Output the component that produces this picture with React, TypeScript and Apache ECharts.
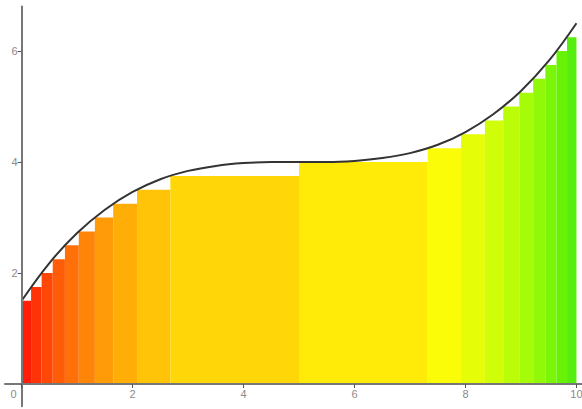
import React, { useEffect, useRef } from "react";
import * as echarts from "echarts";

// Step bars (equal height steps of the curve)
const barStarts = [0, 0.17, 0.36, 0.56, 0.78, 1.03, 1.32, 1.65, 2.08, 2.68, 5.0, 7.32, 7.92, 8.35, 8.68, 8.97, 9.22, 9.44, 9.64, 9.83];
const barEnds = [0.17, 0.36, 0.56, 0.78, 1.03, 1.32, 1.65, 2.08, 2.68, 5.0, 7.32, 7.92, 8.35, 8.68, 8.97, 9.22, 9.44, 9.64, 9.83, 10];
const barHeights = [1.5, 1.75, 2.0, 2.25, 2.5, 2.75, 3.0, 3.25, 3.5, 3.75, 4.0, 4.25, 4.5, 4.75, 5.0, 5.25, 5.5, 5.75, 6.0, 6.25];
const barColors = [
  "#ff1e08", "#ff3308", "#ff4808", "#ff5c08", "#ff7008", "#ff8508", "#ff9a08", "#ffae08", "#ffc308", "#ffd708",
  "#ffea08", "#fbfd08", "#e6fd08", "#d0fd08", "#bbfd08", "#a6fb08", "#90f808", "#7bf508", "#68f208", "#56ee10",
];

// Curve points
const curveX = [0, 0.5, 1, 1.5, 2, 2.5, 3, 3.5, 4, 4.5, 5, 5.5, 6, 6.5, 7, 7.5, 8, 8.5, 9, 9.5, 10];
const curveY = [1.5, 2.18, 2.72, 3.14, 3.46, 3.69, 3.84, 3.93, 3.98, 4.0, 4.0, 4.0, 4.02, 4.07, 4.16, 4.31, 4.54, 4.86, 5.28, 5.82, 6.5];

// Tick labels
const xTicks = [0, 2, 4, 6, 8, 10];
const yTicks = [2, 4, 6];

export default function App() {
  const ref = useRef<HTMLDivElement>(null);
  useEffect(() => {
    document.body.style.margin = "0";
    const chart = echarts.init(ref.current!, null, { renderer: "svg" });
    const barData = barStarts.map((s, i) => [s, barEnds[i], barHeights[i]]);
    const lineData = curveX.map((x, i) => [x, curveY[i]]);
    const axisLabelStyle = { color: "#8a8a8a", fontSize: 11, fontFamily: "Arial, Liberation Sans, sans-serif" };
    chart.setOption({
      animation: false,
      grid: { left: 5, right: 0, top: 6.6, bottom: 2.8, outerBoundsMode: "none", containLabel: false },
      xAxis: {
        type: "value",
        position: "bottom",
        min: -0.3,
        max: 10.1,
        offset: -22.2,
        z: 5,
        splitLine: { show: false },
        axisLine: { onZero: false, lineStyle: { color: "#777", width: 2 } },
        axisTick: { show: true, length: 4, customValues: xTicks, lineStyle: { color: "#555" } },
        axisLabel: {
          ...axisLabelStyle,
          margin: 4,
          customValues: xTicks,
          formatter: (v: number) => (v === 0 ? "{z|0}" : String(v)),
          rich: { z: { ...axisLabelStyle, padding: [0, 16, 0, 0] } },
        },
      },
      yAxis: {
        type: "value",
        position: "left",
        min: -0.4,
        max: 6.8,
        offset: -16.6,
        z: 5,
        splitLine: { show: false },
        axisLine: { onZero: false, lineStyle: { color: "#777", width: 2 } },
        axisTick: { show: true, length: 4, customValues: yTicks, lineStyle: { color: "#555" } },
        axisLabel: { ...axisLabelStyle, margin: 4, customValues: yTicks },
      },
      series: [
        {
          type: "custom",
          data: barData,
          encode: { x: [0, 1], y: 2 },
          renderItem: (params: any, api: any) => {
            const x0 = api.value(0);
            const x1 = api.value(1);
            const h = api.value(2);
            const p0 = api.coord([x0, h]);
            const p1 = api.coord([x1, 0]);
            return {
              type: "rect",
              shape: { x: p0[0], y: p0[1], width: p1[0] - p0[0], height: p1[1] - p0[1] },
              style: { fill: barColors[params.dataIndex] },
            };
          },
          z: 2,
        },
        {
          type: "line",
          data: lineData,
          smooth: 0.4,
          showSymbol: false,
          lineStyle: { color: "#333", width: 2 },
          z: 4,
        },
      ],
    });
    return () => chart.dispose();
  }, []);
  return <div ref={ref} style={{ width: 582, height: 409 }} />;
}
